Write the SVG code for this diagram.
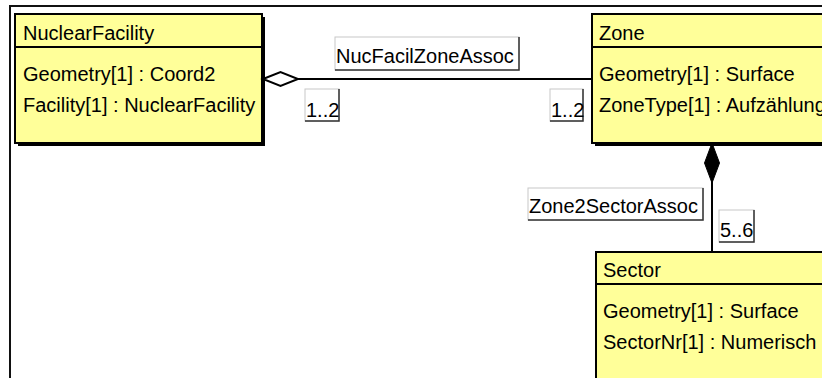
<svg xmlns="http://www.w3.org/2000/svg" width="822" height="378" viewBox="0 0 822 378">
<style>
text{font-family:"Liberation Sans",Arial,sans-serif;font-size:20px;fill:#000}
.box{fill:#ffff99;stroke:#000;stroke-width:2}
.shadow{fill:none;stroke:#000;stroke-width:2}
.div{stroke:#000;stroke-width:2}
.lbl{fill:#fff;stroke:#c8c8c8;stroke-width:1}
.lsh{fill:none;stroke:#333;stroke-width:1.5}
.conn{stroke:#000;stroke-width:2;fill:none}
</style>
<rect width="822" height="378" fill="#fff"/>
<path d="M10,400 V6 H830" fill="none" stroke="#111" stroke-width="2"/>
<g id="NuclearFacility">
<path class="shadow" d="M264,17 V145 H18"/>
<rect class="box" x="15" y="14" width="247" height="129"/>
<line class="div" x1="15" y1="47" x2="262" y2="47"/>
<text x="23" y="40">NuclearFacility</text>
<text x="23" y="81">Geometry[1] : Coord2</text>
<text x="23" y="112">Facility[1] : NuclearFacility</text>
</g>
<g id="Zone">
<rect class="box" x="592" y="14" width="240" height="129"/>
<path class="shadow" d="M595,145 H830"/>
<line class="div" x1="592" y1="47" x2="830" y2="47"/>
<text x="599" y="40">Zone</text>
<text x="599" y="81">Geometry[1] : Surface</text>
<text x="599" y="112">ZoneType[1] : Aufzählung</text>
</g>
<g id="Sector">
<rect class="box" x="596" y="252" width="240" height="140"/>
<line class="div" x1="596" y1="284" x2="830" y2="284"/>
<text x="603" y="277">Sector</text>
<text x="603" y="318">Geometry[1] : Surface</text>
<text x="603" y="349">SectorNr[1] : Numerisch</text>
</g>
<g id="connectors">
<line class="conn" x1="298" y1="79" x2="592" y2="79"/>
<polygon points="263,79 280.5,72 298,79 280.5,86" fill="#fff" stroke="#000" stroke-width="2"/>
<line class="conn" x1="712" y1="180" x2="712" y2="252"/>
<polygon points="712,143 719.5,163 712,183 704.5,163" fill="#000" stroke="#000" stroke-width="1"/>
<g id="label-NucFacilZoneAssoc">
<rect class="lbl" x="335" y="37" width="184" height="33"/>
<path class="lsh" d="M519,37 V70 H335"/>
<text x="336" y="63">NucFacilZoneAssoc</text>
</g>
<g id="label-mult1">
<rect class="lbl" x="305" y="89" width="34" height="32"/>
<path class="lsh" d="M339,89 V121 H305"/>
<text x="306" y="117">1..2</text>
</g>
<g id="label-mult2">
<rect class="lbl" x="550" y="89" width="33" height="32"/>
<path class="lsh" d="M583,89 V121 H550"/>
<text x="551" y="117">1..2</text>
</g>
<g id="label-Zone2SectorAssoc">
<rect class="lbl" x="528" y="188" width="175" height="32"/>
<path class="lsh" d="M703,188 V220 H528"/>
<text x="529" y="213">Zone2SectorAssoc</text>
</g>
<g id="label-mult3">
<rect class="lbl" x="719" y="210" width="35" height="32"/>
<path class="lsh" d="M754,210 V242 H719"/>
<text x="720" y="237">5..6</text>
</g>
</g>
</svg>
